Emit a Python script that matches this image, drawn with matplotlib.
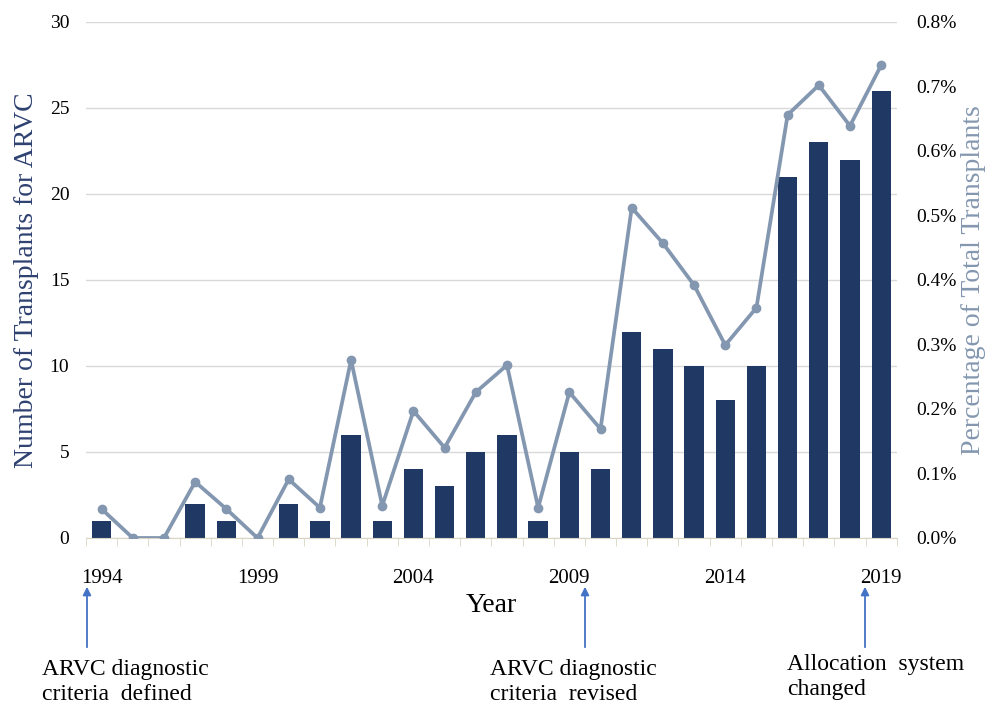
import numpy as np
import matplotlib.pyplot as plt
from matplotlib.patches import FancyArrowPatch
from matplotlib.ticker import FuncFormatter

# --- Data ---
years = list(range(1994, 2020))
transplants = [1, 0, 0, 2, 1, 0, 2, 1, 6, 1, 4, 3, 5, 6, 1, 5, 4,
               12, 11, 10, 8, 10, 21, 23, 22, 26]
pct_total = [0.045, 0.0, 0.0, 0.087, 0.045, 0.0, 0.091, 0.047, 0.276, 0.050,
             0.197, 0.140, 0.226, 0.268, 0.047, 0.226, 0.169, 0.512, 0.457,
             0.392, 0.299, 0.357, 0.656, 0.702, 0.639, 0.733]
tick_years = [1994, 1999, 2004, 2009, 2014, 2019]
events = ["ARVC diagnostic\ncriteria  defined",
          "ARVC diagnostic\ncriteria  revised",
          "Allocation  system\nchanged"]

BAR_COLOR = '#1F3864'
LINE_COLOR = '#8497B0'
LEFT_LABEL = '#2E4170'
plt.rcParams['font.family'] = ['Liberation Serif', 'DejaVu Serif']

fig = plt.figure(figsize=(9.92, 7.09), dpi=100)
ax = fig.add_axes([0.0867, 0.2412, 0.8173, 0.7278])
x = np.arange(len(years))

ax.bar(x, transplants, width=0.62, color=BAR_COLOR, zorder=2)
ax.set_xlim(-0.5, len(years) - 0.5)
ax.set_ylim(0, 30)
ax.set_yticks(range(0, 31, 5))
ax.grid(axis='y', color='#D9D9D9', linewidth=1, zorder=0)
ax.set_axisbelow(True)

ax.set_xticks([years.index(y) for y in tick_years])
ax.set_xticklabels([str(y) for y in tick_years])
ax.set_xticks(np.arange(-0.5, len(years), 1), minor=True)
ax.tick_params(axis='x', which='major', length=0, labelsize=15, pad=22)
ax.tick_params(axis='x', which='minor', length=6, color='#D9D4C4', direction='out')
ax.tick_params(axis='y', length=0, labelsize=14, pad=12)

for s in ['top', 'right', 'left']:
    ax.spines[s].set_visible(False)
ax.spines['bottom'].set_color('#D9D4C4')

ax.set_ylabel('Number of Transplants for ARVC', fontsize=20, color=LEFT_LABEL, labelpad=8)
ax.set_xlabel('Year', fontsize=20, labelpad=4)

ax2 = ax.twinx()
ax2.plot(x, pct_total, color=LINE_COLOR, linewidth=2.7, marker='o', markersize=6, zorder=3)
ax2.set_ylim(0, 0.8)
ax2.set_yticks(np.arange(0, 0.81, 0.1))
ax2.yaxis.set_major_formatter(FuncFormatter(lambda v, p: f'{v:.1f}%'))
ax2.tick_params(axis='y', length=0, labelsize=14, pad=14)
for s in ax2.spines.values():
    s.set_visible(False)
ax2.set_ylabel('Percentage of Total Transplants', fontsize=20, color=LINE_COLOR, labelpad=3)

# --- Event annotations below the axis ---
arrow_x = [87, 585, 865]
text_x = [42, 490, 787]
text_y = [705, 705, 700]
for ax_px, tx, ty, label in zip(arrow_x, text_x, text_y, events):
    fig.patches.append(FancyArrowPatch(
        (ax_px / 992, 1 - 650 / 709), (ax_px / 992, 1 - 584 / 709),
        transform=fig.transFigure, arrowstyle='-|>', mutation_scale=12,
        color='#4472C4', linewidth=1.3))
    fig.text(tx / 992, 1 - ty / 709, label, fontsize=17, ha='left', va='bottom',
             linespacing=1.25)

fig.savefig('out.png', dpi=100)
